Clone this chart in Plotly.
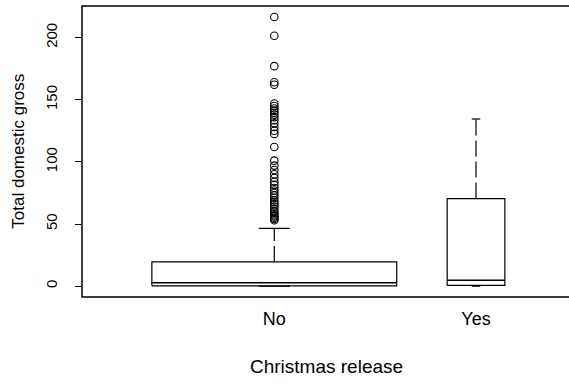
import plotly.graph_objects as go

# ---- data ----
groups = ["No", "Yes"]
positions = [1, 2]
lower_whisker = [0.0, 0.0]
q1 = [0.3, 0.6]
median = [2.8, 4.8]
q3 = [19.5, 70.5]
upper_whisker = [46.5, 134.5]
outliers_no = [216.6, 201.5, 177.0, 164.0, 162.0, 147.0, 145.0, 143.0, 141.0,
               139.5, 138.0, 136.0, 133.5, 131.0, 128.0, 125.0, 122.5, 112.0,
               101.0, 97.0, 93.5, 90.0, 87.0, 84.0, 81.5, 79.0, 77.0, 75.0,
               73.0, 71.0, 69.0, 67.5, 66.0, 64.0, 62.0, 60.0, 58.5, 57.0,
               56.0, 55.0, 54.0, 53.0]
outliers_yes = []
y_ticks = [0, 50, 100, 150, 200]

# ---- style ----
box_half = [0.607, 0.143]      # variable width boxes
staple_half = [0.077, 0.021]
FONT = "Liberation Sans, Arial, sans-serif"
LC = "black"

fig = go.Figure()

def line(xs, ys, dash="solid", width=1.2):
    fig.add_trace(go.Scatter(x=xs, y=ys, mode="lines",
                             line=dict(color=LC, width=width, dash=dash),
                             hoverinfo="skip", showlegend=False))

for i, p in enumerate(positions):
    h = box_half[i]
    s = staple_half[i]
    # box
    line([p - h, p + h, p + h, p - h, p - h], [q1[i], q1[i], q3[i], q3[i], q1[i]])
    # median
    line([p - h, p + h], [median[i], median[i]], width=1.5)
    # whiskers
    line([p, p], [q3[i], upper_whisker[i]], dash="16px,5px")
    line([p, p], [q1[i], lower_whisker[i]], dash="16px,5px")
    # staples
    line([p - s, p + s], [upper_whisker[i], upper_whisker[i]])
    line([p - s, p + s], [lower_whisker[i], lower_whisker[i]])

for p, outs in zip(positions, [outliers_no, outliers_yes]):
    if outs:
        fig.add_trace(go.Scatter(x=[p] * len(outs), y=outs, mode="markers",
                                 marker=dict(symbol="circle-open", size=7.5,
                                             color=LC, line=dict(width=1.1)),
                                 showlegend=False))

fig.update_layout(
    width=569, height=385,
    margin=dict(l=82, r=0, t=6, b=88),
    paper_bgcolor="white", plot_bgcolor="white",
    font=dict(family=FONT, color="black"),
    xaxis=dict(range=[0.0466, 2.461], tickvals=positions, ticktext=groups,
               showgrid=False, zeroline=False, showline=False, ticks="",
               tickfont=dict(size=18), ticklabelstandoff=9),
    yaxis=dict(range=[-8.7, 225.4], tickvals=y_ticks,
               showgrid=False, zeroline=False, showline=False,
               ticks="outside", ticklen=6, tickcolor=LC, tickwidth=1,
               tickangle=-90, tickfont=dict(size=15), ticklabelstandoff=12),
    shapes=[dict(type="rect", xref="paper", yref="paper", x0=0, x1=1.05,
                 y0=0, y1=1, line=dict(color=LC, width=1.5))],
    annotations=[
        dict(text="Christmas release", xref="paper", yref="paper",
             x=0.502, y=-0.24, xanchor="center", yanchor="middle",
             showarrow=False, font=dict(size=19)),
        dict(text="Total domestic gross", xref="paper", yref="paper",
             x=-0.131, y=0.50, xanchor="center", yanchor="middle",
             textangle=-90, showarrow=False, font=dict(size=17)),
    ],
)

fig.write_html("out.html")
